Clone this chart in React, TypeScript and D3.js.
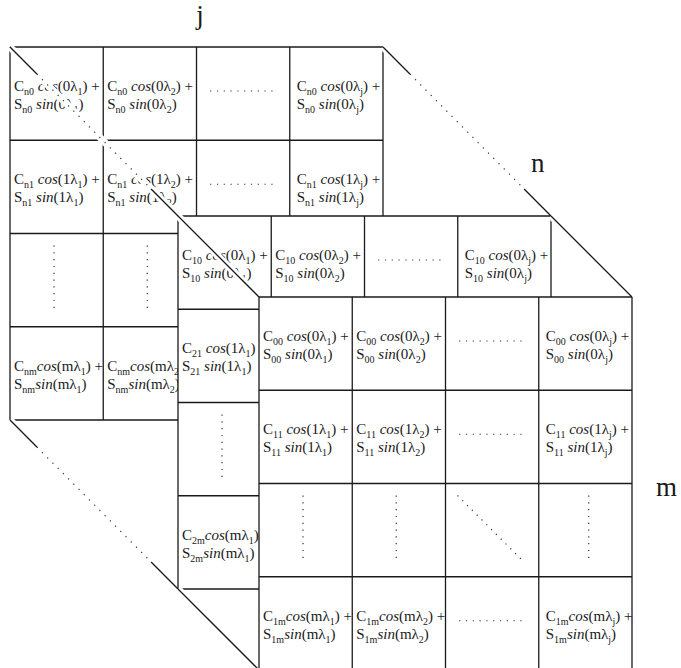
import React from "react";
import * as d3 from "d3";

const W = 681;
const H = 668;
const CELL = 93.25;

// λ subscript for each column ("" = the column of dots)
const lambdaSubs = ["1", "2", "", "j"];
// multiple of λ in each row ("" = the row of dots)
const rowK = ["0", "1", "", "m"];
// coefficient subscripts for each layer, row by row
const backCoef = ["n0", "n1", "", "nm"];
const midCoef = ["10", "21", "", "2m"];
const frontCoef = ["00", "11", "", "1m"];
// axis letters: columns, depth, rows
const axisLabels = ["j", "n", "m"];

const FONT = "'Liberation Serif', 'Times New Roman', Times, serif";
const INK = "#1a1a1a";

const layers = [
  { coef: backCoef, x0: 10, y0: 47 },
  { coef: midCoef, x0: 178, y0: 216 },
  { coef: frontCoef, x0: 259, y0: 297 },
];

type Seg = { t: string; sub?: boolean; it?: boolean };

function segs(letter: string, coef: string, fn: string, k: string, lam: string, tight: boolean, plus: boolean): Seg[] {
  return [
    { t: letter },
    { t: coef, sub: true },
    { t: (tight ? "" : " ") + fn, it: true },
    { t: "(" + k + "λ" },
    { t: lam, sub: true },
    { t: plus ? ") +" : ")" },
  ];
}

function Line({ x, y, parts }: { x: number; y: number; parts: Seg[] }) {
  let shift = 0;
  return (
    <text x={x} y={y} fontFamily={FONT} fontSize={15} fill={INK} style={{ whiteSpace: "pre" }}>
      {parts.map((p, i) => {
        const want = p.sub ? 4 : 0;
        const dy = want - shift;
        shift = want;
        return (
          <tspan key={i} dy={dy} fontSize={p.sub ? 10 : 15} fontStyle={p.it ? "italic" : "normal"}>
            {p.t}
          </tspan>
        );
      })}
    </text>
  );
}

function Dots({ x1, y1, x2, y2 }: { x1: number; y1: number; x2: number; y2: number }) {
  return <line x1={x1} y1={y1} x2={x2} y2={y2} stroke="#333" strokeWidth={1.2} strokeDasharray="1.2 5.6" />;
}

function Layer({ coef, x0, y0 }: { coef: string[]; x0: number; y0: number }) {
  const x = d3.scaleLinear().domain([0, lambdaSubs.length]).range([x0, x0 + lambdaSubs.length * CELL]);
  const y = d3.scaleLinear().domain([0, rowK.length]).range([y0, y0 + rowK.length * CELL]);
  const cells: React.ReactNode[] = [];
  rowK.forEach((k, r) => {
    lambdaSubs.forEach((lam, c) => {
      const cx = x(c);
      const cy = y(r);
      const key = r + "-" + c;
      if (k === "" && lam === "") {
        cells.push(<Dots key={key} x1={cx + 12} y1={cy + 12} x2={cx + 79} y2={cy + 79} />);
      } else if (k === "") {
        const off = c === lambdaSubs.length - 1 ? 50 : 44;
        cells.push(<Dots key={key} x1={cx + off} y1={cy + 12} x2={cx + off} y2={cy + 77} />);
      } else if (lam === "") {
        cells.push(<Dots key={key} x1={cx + CELL / 2 - 33} y1={cy + 44} x2={cx + CELL / 2 + 33} y2={cy + 44} />);
      } else {
        const tight = k === "m";
        const pad = c === lambdaSubs.length - 1 ? 7 : 4;
        cells.push(
          <g key={key}>
            <Line x={cx + pad} y={cy + 44} parts={segs("C", coef[r], "cos", k, lam, tight, true)} />
            <Line x={cx + pad} y={cy + 62} parts={segs("S", coef[r], "sin", k, lam, tight, false)} />
          </g>
        );
      }
    });
  });
  return (
    <g>
      <rect x={x0} y={y0} width={lambdaSubs.length * CELL} height={rowK.length * CELL} fill="#fff" />
      {cells}
      {d3.range(lambdaSubs.length + 1).map((i) => (
        <line key={"v" + i} x1={x(i)} x2={x(i)} y1={y(0)} y2={y(rowK.length)} stroke={INK} strokeWidth={1.3} />
      ))}
      {d3.range(rowK.length + 1).map((i) => (
        <line key={"h" + i} x1={x(0)} x2={x(lambdaSubs.length)} y1={y(i)} y2={y(i)} stroke={INK} strokeWidth={1.3} />
      ))}
    </g>
  );
}

// edge from one layer corner to the next: solid ends, dotted middle when dotted=true
function Edge({ a, b, dotted }: { a: [number, number]; b: [number, number]; dotted: boolean }) {
  const p = d3.interpolate(a, b);
  const s = 0.16;
  const m1 = p(s).slice();
  const m2 = p(1 - s).slice();
  return (
    <g>
      <line x1={a[0]} y1={a[1]} x2={b[0]} y2={b[1]} stroke="#fff" strokeWidth={7} />
      {dotted ? (
        <>
          <line x1={a[0]} y1={a[1]} x2={m1[0]} y2={m1[1]} stroke={INK} strokeWidth={1.3} />
          <line x1={m1[0]} y1={m1[1]} x2={m2[0]} y2={m2[1]} stroke="#333" strokeWidth={1.2} strokeDasharray="1.2 6.2" />
          <line x1={m2[0]} y1={m2[1]} x2={b[0]} y2={b[1]} stroke={INK} strokeWidth={1.3} />
        </>
      ) : (
        <line x1={a[0]} y1={a[1]} x2={b[0]} y2={b[1]} stroke={INK} strokeWidth={1.3} />
      )}
    </g>
  );
}

function corners(l: { x0: number; y0: number }) {
  const w = lambdaSubs.length * CELL;
  const h = rowK.length * CELL;
  return {
    tl: [l.x0, l.y0] as [number, number],
    tr: [l.x0 + w, l.y0] as [number, number],
    bl: [l.x0, l.y0 + h] as [number, number],
  };
}

export default function App() {
  const [back, mid, front] = layers;
  const cb = corners(back);
  const cm = corners(mid);
  const cf = corners(front);
  return (
    <svg
      width={W}
      height={H}
      viewBox={`0 0 ${W} ${H}`}
      style={{ position: "absolute", left: 0, top: 0, background: "#fff" }}
    >
      <Layer {...back} />
      <Edge a={cb.tl} b={cm.tl} dotted />
      <Edge a={cb.tr} b={cm.tr} dotted />
      <Edge a={cb.bl} b={cm.bl} dotted />
      <Layer {...mid} />
      <Edge a={cm.tl} b={cf.tl} dotted={false} />
      <Edge a={cm.tr} b={cf.tr} dotted={false} />
      <Edge a={cm.bl} b={cf.bl} dotted={false} />
      <Layer {...front} />
      <text x={200} y={24} fontFamily={FONT} fontSize={27} textAnchor="middle" fill={INK}>
        {axisLabels[0]}
      </text>
      <text x={531} y={172} fontFamily={FONT} fontSize={27} fill={INK}>
        {axisLabels[1]}
      </text>
      <text x={656} y={496} fontFamily={FONT} fontSize={27} fill={INK}>
        {axisLabels[2]}
      </text>
    </svg>
  );
}
